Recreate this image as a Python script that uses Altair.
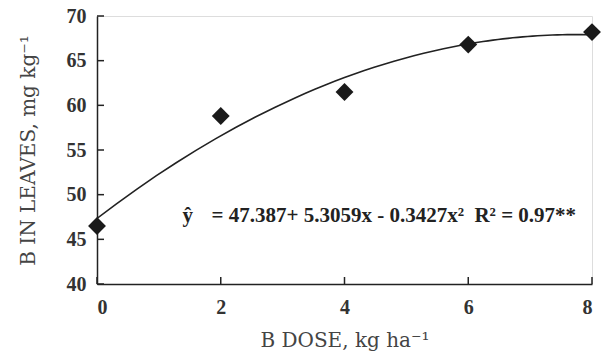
import altair as alt
import pandas as pd

dose = [0, 2, 4, 6, 8]
b_leaves = [46.5, 58.8, 61.5, 66.8, 68.2]
y_ticks = [40, 45, 50, 55, 60, 65, 70]
x_ticks = [0, 2, 4, 6, 8]
hat = "ŷ"
equation = "= 47.387+ 5.3059x - 0.3427x²\u00a0\u00a0R² = 0.97**"

df = pd.DataFrame({"dose": dose, "b": b_leaves})
yt = pd.DataFrame({"v": y_ticks})
xt = pd.DataFrame({"v": x_ticks})

FONT = "Liberation Serif"
TFONT = "DejaVu Serif"
xs = alt.Scale(domain=[0, 8], nice=False, zero=False)
ys = alt.Scale(domain=[40, 70], nice=False, zero=False)

x_axis = alt.Axis(values=x_ticks, format="d", ticks=False, grid=False, domainColor="#222", domainWidth=1.5,
                  labelFont=FONT, labelFontSize=20, labelFontWeight="bold", labelColor="#333",
                  labelPadding=13, title="B DOSE, kg ha⁻¹", titleFont=TFONT, titleFontSize=20,
                  titleFontWeight="normal", titleColor="#444", titlePadding=13)
y_axis = alt.Axis(values=y_ticks, ticks=False, grid=False, domainColor="#222", domainWidth=1.5,
                  labelFont=FONT, labelFontSize=20, labelFontWeight="bold", labelColor="#333",
                  labelPadding=11, title="B IN LEAVES, mg kg⁻¹", titleFont=TFONT, titleFontSize=20,
                  titleFontWeight="normal", titleColor="#444", titlePadding=28)

base = alt.Chart(df)

points = base.mark_point(shape="diamond", filled=True, size=320, color="#1a1a1a", opacity=1).encode(
    x=alt.X("dose:Q", scale=xs, axis=x_axis),
    y=alt.Y("b:Q", scale=ys, axis=y_axis),
)

curve = base.transform_regression("dose", "b", method="poly", order=2, extent=[0, 8]).mark_line(
    color="#222", strokeWidth=1.6, clip=True
).encode(x=alt.X("dose:Q", scale=xs), y=alt.Y("b:Q", scale=ys))

yticks = alt.Chart(yt).mark_rule(color="#222", strokeWidth=1.5).encode(
    y=alt.Y("v:Q", scale=ys), x=alt.value(0), x2=alt.value(7)
)
xticks = alt.Chart(xt).mark_rule(color="#222", strokeWidth=1.5).encode(
    x=alt.X("v:Q", scale=xs), y=alt.value(268), y2=alt.value(261)
)

eq_df = pd.DataFrame({"t": [hat, equation], "x": [1.38, 1.85], "y": [47.6, 47.6]})
eq = alt.Chart(eq_df).mark_text(
    align="left", baseline="middle", font=FONT, fontSize=21, fontWeight="bold", color="#222"
).encode(x=alt.X("x:Q", scale=xs), y=alt.Y("y:Q", scale=ys), text="t:N")

chart = alt.layer(curve, points, yticks, xticks, eq).properties(
    width=495, height=268,
    autosize=alt.AutoSizeParams(type="none"),
    padding={"left": 97, "top": 16, "right": 18, "bottom": 69},
).configure_view(stroke=None).configure(background="white")

chart.save("out.html", embed_options={"renderer": "svg", "actions": False})
